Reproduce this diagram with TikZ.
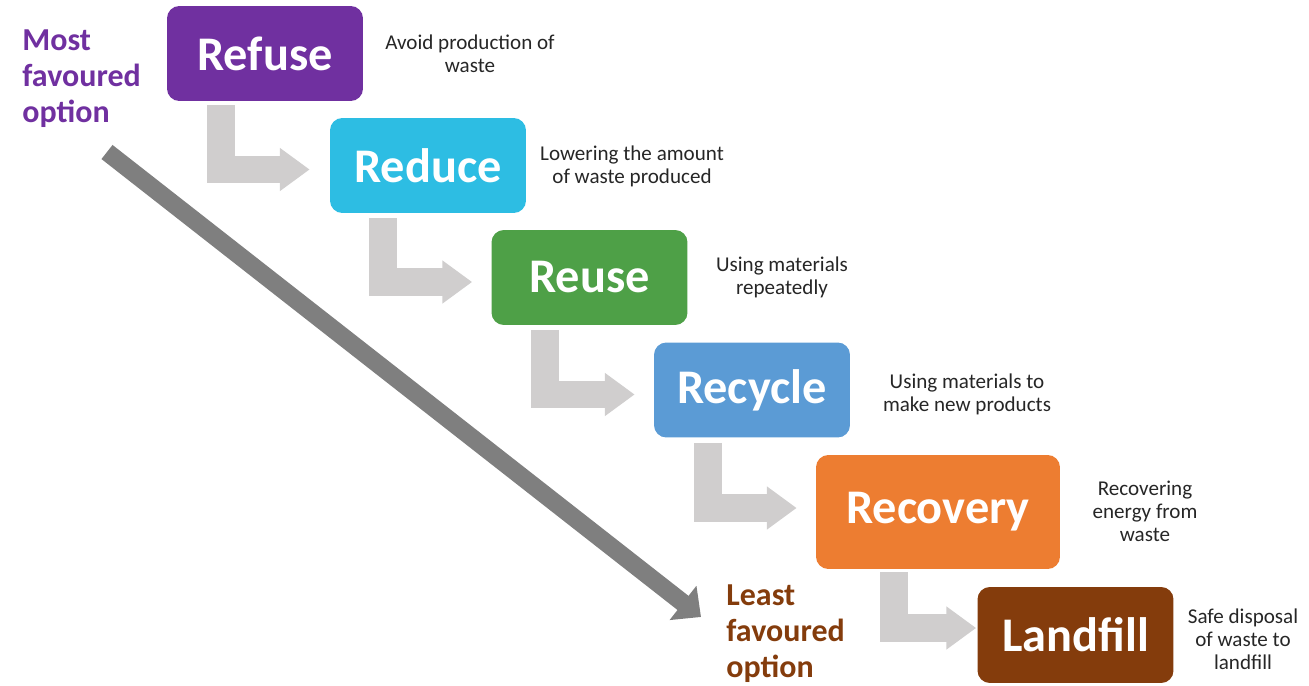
\documentclass[tikz,border=0pt]{standalone}
\usepackage{fontspec}
\setmainfont{Carlito}
\usetikzlibrary{calc,arrows.meta}

\definecolor{lila}{HTML}{7030A0}
\definecolor{tuerkis}{HTML}{2DBDE3}
\definecolor{gruen}{HTML}{4EA047}
\definecolor{blau}{HTML}{5B9BD5}
\definecolor{orange}{HTML}{ED7D31}
\definecolor{braun}{HTML}{843C0C}
\definecolor{hellgrau}{HTML}{D0CECE}
\definecolor{dunkelgrau}{HTML}{7F7F7F}
\definecolor{textgrau}{HTML}{262626}

\begin{document}
\begin{tikzpicture}[x=0.02cm,y=-0.02cm,
    stufe/.style={rounded corners=7pt, inner sep=0pt, minimum width=3.92cm,
        minimum height=1.9cm, text=white, font=\bfseries\fontsize{27.5}{30}\selectfont},
    info/.style={align=center, inner sep=0pt, text=textgrau,
        font=\fontsize{12}{13}\selectfont},
    seite/.style={align=left, anchor=west, inner sep=0pt,
        font=\bfseries\fontsize{18.2}{20.5}\selectfont},
    lpfeil/.style={color=hellgrau, line width=15.9pt,
        -{Triangle[width=23.5pt,length=17pt]}}]
    \useasboundingbox (0,0) rectangle (1309,686);

    % Stufen der Abfallhierarchie
    \node [stufe, fill=lila] (refuse) at (265,53.5) {Refuse};
    \node [stufe, fill=tuerkis] (reduce) at (428,165.5) {Reduce};
    \node [stufe, fill=gruen] (reuse) at (589.5,277.5) {Reuse};
    \node [stufe, fill=blau] (recycle) at (752,390) {Recycle};
    \node [stufe, fill=orange, minimum width=4.88cm, minimum height=2.28cm] (recovery) at (938,512) {Recovery};
    \node [stufe, fill=braun, minimum height=1.92cm] (landfill) at (1075.5,635) {Landfill};

    % Erklaerungen rechts daneben
    \node [info] (refuse-txt) at (470,54) {Avoid production of\\waste};
    \node [info] (reduce-txt) at (632,166) {Lowering the amount\\of waste produced};
    \node [info] (reuse-txt) at (782,277) {Using materials\\repeatedly};
    \node [info] (recycle-txt) at (967,394) {Using materials to\\make new products};
    \node [info] (recovery-txt) at (1145,511) {Recovering\\energy from\\waste};
    \node [info] (landfill-txt) at (1243,639) {Safe disposal\\of waste to\\landfill};

    % Winkelpfeile von Stufe zu Stufe
    \draw [lpfeil] ($(refuse.south west)+(54,4)$) |- ($(reduce.west)+(-20,4)$);
    \draw [lpfeil] ($(reduce.south west)+(53,5)$) |- ($(reuse.west)+(-19,4.5)$);
    \draw [lpfeil] ($(reuse.south west)+(54,5)$) |- ($(recycle.west)+(-19,4.5)$);
    \draw [lpfeil] ($(recycle.south west)+(54,5)$) |- ($(recovery.west)+(-19,-4)$);
    \draw [lpfeil] ($(recovery.south west)+(78,3)$) |- ($(landfill.west)+(-1,-7)$);

    % Randbeschriftung
    \node [seite, text=lila] (most) at (22,79) {Most\\favoured\\option};
    \node [seite, text=braun] (least) at (726,634) {Least\\favoured\\option};

    % grosser Pfeil von oben nach unten
    \coordinate (oben) at (107,152);
    \coordinate (unten) at (701,617);
    \draw [dunkelgrau, line width=10.2pt, -{Triangle[width=24pt,length=13pt]}] (oben) -- (unten);
\end{tikzpicture}
\end{document}
